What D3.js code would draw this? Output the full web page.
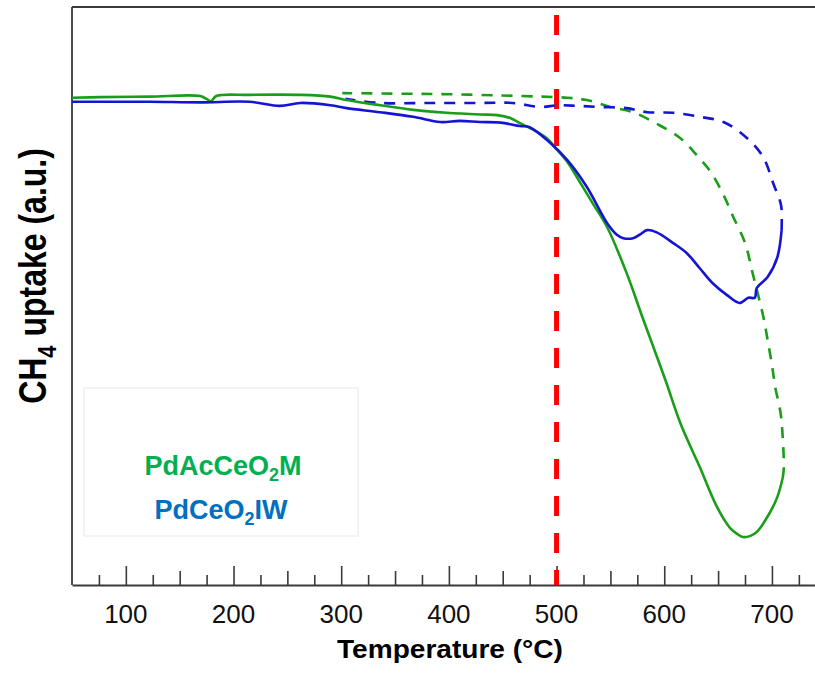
<!DOCTYPE html>
<html>
<head>
<meta charset="utf-8">
<script src="https://cdn.jsdelivr.net/npm/d3@7"></script>
<style>
	body { margin: 0; background: #fff; }
	text { font-family: "Liberation Sans", Arial, sans-serif; }
</style>
</head>
<body>
<div id="chart"></div>
<script>

// heating (solid) and cooling (dashed) runs, temperature in °C, uptake in a.u.
var acHeatT = [50, 76, 122, 169, 175, 179, 184, 215, 262, 290, 305, 336, 367, 398, 429, 445, 457, 466, 475, 491, 499, 510, 522, 534, 547, 565, 580, 601, 615, 633, 649, 661, 668, 673, 680, 686, 698, 705, 710];
var acHeatV = [84.3, 84.4, 84.5, 84.6, 84.1, 83.7, 84.6, 84.8, 84.8, 84.5, 83.9, 83.0, 82.2, 81.7, 81.4, 81.3, 80.8, 79.9, 79.1, 77.3, 75.6, 73.2, 69.6, 65.9, 61.9, 54.0, 46.2, 35.5, 28.0, 20.4, 13.5, 9.9, 8.8, 8.3, 8.5, 9.2, 12.5, 15.2, 18.5];

var acCoolT = [710, 711, 710, 708, 703, 700, 696, 692, 682, 675, 664, 655, 643, 630, 615, 593, 571, 550, 528, 510, 485, 448, 401, 355, 301];
var acCoolV = [18.5, 20.2, 25.6, 29.8, 34.3, 38.1, 42.4, 46.4, 54.0, 59.2, 63.7, 67.5, 71.5, 74.4, 77.3, 79.8, 81.8, 82.7, 83.9, 84.3, 84.5, 84.7, 84.9, 85.0, 85.1];

var iwHeatT = [50, 76, 122, 169, 215, 243, 262, 290, 305, 336, 367, 392, 410, 429, 448, 466, 475, 494, 510, 528, 547, 556, 562, 571, 578, 584, 593, 608, 621, 633, 645, 658, 670, 678, 684, 686, 696, 705, 709];
var iwHeatV = [83.6, 83.6, 83.6, 83.5, 83.6, 82.9, 83.4, 83.0, 82.5, 81.8, 81.0, 80.1, 80.3, 80.1, 80.0, 79.4, 79.2, 76.5, 73.5, 68.9, 62.6, 60.6, 60.0, 60.0, 60.7, 61.4, 61.0, 59.2, 57.4, 54.8, 52.2, 50.2, 48.8, 49.7, 49.7, 51.4, 53.3, 56.7, 61.4];

var iwCoolT = [709, 709, 708, 701, 692, 677, 655, 633, 608, 584, 565, 540, 519, 501, 485, 459, 429, 383, 336, 304];
var iwCoolV = [61.4, 64.9, 66.1, 69.6, 74.0, 77.3, 80.1, 81.0, 81.7, 81.8, 82.5, 82.7, 82.9, 83.0, 82.7, 83.4, 83.4, 83.4, 83.4, 84.1];

var xMajor = [100, 200, 300, 400, 500, 600, 700];
var markerT = 500;

function zip(t, v){
	var out = [];
	for (var i = 0; i < t.length; i++){
		out.push({t: t[i], v: v[i]});
	}
	return out;
}

function drawChart() {
	var W = 815, H = 673;
	var left = 72, right = 815, top = 7, bottom = 585;

	var svg = d3.select("#chart").append("svg")
				.attr("width", W)
				.attr("height", H);

	var xScale = d3.scaleLinear().domain([50, 740]).range([left, right]);
	var yScale = d3.scaleLinear().domain([0, 100]).range([bottom, top]);

	// frame: left, top and bottom only
	svg.append("line")
	   .attr("x1", left).attr("x2", right).attr("y1", top).attr("y2", top)
	   .attr("stroke", "#3a3a3a").attr("stroke-width", 2);
	svg.append("line")
	   .attr("x1", left).attr("x2", left).attr("y1", top).attr("y2", bottom)
	   .attr("stroke", "#3a3a3a").attr("stroke-width", 1.8);

	// x axis with inward ticks of three lengths
	var minor = d3.range(75, 740, 25);
	var xAxis = d3.axisBottom(xScale)
				  .tickValues(minor)
				  .tickSizeInner(0)
				  .tickSizeOuter(0)
				  .tickPadding(0)
				  .tickFormat("");
	var gx = svg.append("g")
				.attr("transform", "translate(0," + bottom + ")")
				.call(xAxis);
	gx.select(".domain").attr("stroke", "#3a3a3a").attr("stroke-width", 1.8);
	gx.selectAll(".tick line")
	  .attr("stroke", "#3a3a3a")
	  .attr("stroke-width", 1.6)
	  .attr("y2", function(d){ return d % 100 == 0 ? -19 : (d % 50 == 0 ? -14 : -10); });

	gx.selectAll(".lbl")
	  .data(xMajor)
	  .enter()
	  .append("text")
	  .attr("x", function(d){ return xScale(d); })
	  .attr("y", 38)
	  .attr("text-anchor", "middle")
	  .attr("font-size", 26)
	  .attr("fill", "#111")
	  .text(function(d){ return d; });

	svg.append("text")
	   .attr("transform", "translate(450,658) scale(1.08,1)")
	   .attr("text-anchor", "middle")
	   .attr("font-size", 26)
	   .attr("font-weight", "bold")
	   .attr("fill", "#000")
	   .text("Temperature (°C)");

	var yt = svg.append("text")
				.attr("transform", "translate(46,276) scale(1.2,1) rotate(-90)")
				.attr("text-anchor", "middle")
				.attr("font-size", 32)
				.attr("font-weight", "bold")
				.attr("fill", "#000");
	yt.append("tspan").text("CH");
	yt.append("tspan").attr("font-size", 22).attr("dy", 8).text("4");
	yt.append("tspan").attr("dy", -8).text(" uptake (a.u.)");

	// marker at 500 °C
	svg.append("line")
	   .attr("x1", xScale(markerT)).attr("x2", xScale(markerT))
	   .attr("y1", 15).attr("y2", bottom)
	   .attr("stroke", "#ff0000")
	   .attr("stroke-width", 5)
	   .attr("stroke-dasharray", "20,17");

	var line = d3.line()
				 .x(function(d){ return xScale(d.t); })
				 .y(function(d){ return yScale(d.v); })
				 .curve(d3.curveCatmullRom.alpha(0.5));

	var series = [
		{pts: zip(acCoolT, acCoolV), color: "#1a9e1a", dash: "11,9"},
		{pts: zip(iwCoolT, iwCoolV), color: "#1414d2", dash: "11,9"},
		{pts: zip(acHeatT, acHeatV), color: "#1a9e1a", dash: null},
		{pts: zip(iwHeatT, iwHeatV), color: "#1414d2", dash: null}
	];

	svg.selectAll("path.run")
	   .data(series)
	   .enter()
	   .append("path")
	   .attr("class", "run")
	   .attr("d", function(d){ return line(d.pts); })
	   .attr("fill", "none")
	   .attr("stroke", function(d){ return d.color; })
	   .attr("stroke-width", 2.6)
	   .attr("stroke-linejoin", "round")
	   .attr("stroke-dasharray", function(d){ return d.dash; });

	// legend box
	svg.append("rect")
	   .attr("x", 84).attr("y", 388)
	   .attr("width", 274).attr("height", 148)
	   .attr("fill", "#fff")
	   .attr("stroke", "#f0f0f0")
	   .attr("stroke-width", 1.5);

	var l1 = svg.append("text")
				.attr("x", 223).attr("y", 475)
				.attr("text-anchor", "middle")
				.attr("font-size", 27)
				.attr("font-weight", "bold")
				.attr("fill", "#00b050");
	l1.append("tspan").text("PdAcCeO");
	l1.append("tspan").attr("font-size", 18).attr("dy", 6).text("2");
	l1.append("tspan").attr("dy", -6).text("M");

	var l2 = svg.append("text")
				.attr("x", 221).attr("y", 519)
				.attr("text-anchor", "middle")
				.attr("font-size", 27)
				.attr("font-weight", "bold")
				.attr("fill", "#0070c0");
	l2.append("tspan").text("PdCeO");
	l2.append("tspan").attr("font-size", 18).attr("dy", 6).text("2");
	l2.append("tspan").attr("dy", -6).text("IW");
}

drawChart();
</script>
</body>
</html>
